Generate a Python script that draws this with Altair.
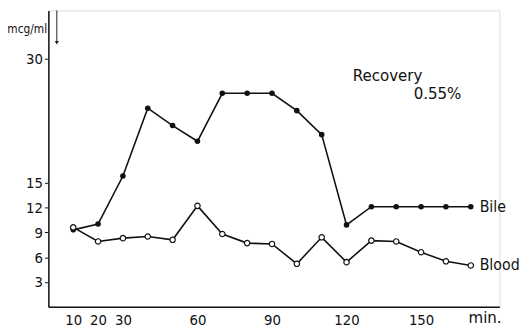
import altair as alt
import pandas as pd

minutes = [10, 20, 30, 40, 50, 60, 70, 80, 90, 100, 110, 120, 130, 140, 150, 160, 170]
bile = [9.3, 10.0, 15.8, 24.0, 21.9, 20.0, 25.8, 25.8, 25.8, 23.7, 20.8, 9.9, 12.1, 12.1, 12.1, 12.1, 12.1]
blood = [9.6, 7.9, 8.3, 8.5, 8.1, 12.2, 8.8, 7.7, 7.6, 5.2, 8.4, 5.4, 8.0, 7.9, 6.6, 5.5, 5.0]
y_ticks = [3, 6, 9, 12, 15, 30]
x_ticks = [10, 20, 30, 60, 90, 120, 150]
series_names = ["Bile", "Blood"]
note_text = ["Recovery", "0.55%"]
note_x = [122.5, 147.0]
note_y = [27.9, 25.7]

FONT = "'Liberation Sans Narrow', 'DejaVu Sans Condensed', sans-serif"

df = pd.DataFrame({
    "min": minutes * 2,
    "value": bile + blood,
    "series": [series_names[0]] * len(minutes) + [series_names[1]] * len(minutes),
})
end_df = pd.DataFrame({
    "min": [minutes[-1], minutes[-1]],
    "value": [bile[-1], blood[-1]],
    "label": series_names,
})
note_df = pd.DataFrame({"x": note_x, "y": note_y, "t": note_text})

xs = alt.Scale(domain=[0, 181.5], nice=False, zero=False)
ys = alt.Scale(domain=[0, 35.8], nice=False, zero=False)

xenc = alt.X("min:Q", scale=xs, axis=alt.Axis(
    values=x_ticks, grid=False, ticks=False, tickSize=0, labelPadding=6,
    labelFont=FONT, labelFontSize=15, labelColor="#111", domainColor="#111",
    domainWidth=1.5, title="min.", titleFont=FONT, titleFontSize=17,
    titleFontWeight="normal", titleColor="#111", titleX=443, titleY=3,
    titleBaseline="top", titleAlign="center"))
yenc = alt.Y("value:Q", scale=ys, axis=alt.Axis(
    values=y_ticks, grid=False, tickSize=4, tickColor="#111", labelPadding=2,
    labelFont=FONT, labelFontSize=15, labelColor="#111", domainColor="#111",
    domainWidth=1.5, title="mcg/ml", titleFont=FONT, titleFontSize=12,
    titleFontWeight="normal", titleColor="#111", titleAngle=0, titleX=-22,
    titleY=18, titleAlign="center", titleBaseline="middle"))

base = alt.Chart(df)
lines = base.mark_line(color="#111", strokeWidth=1.6).encode(
    x=xenc, y=yenc, detail="series:N")
pts_bile = base.transform_filter(alt.datum.series == "Bile").mark_point(
    filled=True, color="#111", size=32, opacity=1).encode(x="min:Q", y="value:Q")
pts_blood = base.transform_filter(alt.datum.series == "Blood").mark_point(
    filled=True, fill="white", stroke="#111", strokeWidth=1.2, size=30, opacity=1
).encode(x="min:Q", y="value:Q")

ends = alt.Chart(end_df).mark_text(
    align="left", baseline="middle", dx=9, font=FONT, fontSize=16, color="#111"
).encode(x="min:Q", y="value:Q", text="label:N")

notes = alt.Chart(note_df).mark_text(
    align="left", baseline="middle", font=FONT, fontSize=17, color="#111"
).encode(x="x:Q", y="y:Q", text="t:N")

arrow_df = pd.DataFrame({"x": [3.4], "y": [35.8], "y2": [31.9]})
arrow_line = alt.Chart(arrow_df).mark_rule(color="#222", strokeWidth=1).encode(
    x="x:Q", y="y:Q", y2="y2:Q")
arrow_head = alt.Chart(arrow_df).mark_point(
    shape="triangle-down", filled=True, color="#222", size=18, opacity=1
).encode(x="x:Q", y="y2:Q")

chart = alt.layer(lines, pts_bile, pts_blood, ends, notes, arrow_line, arrow_head).properties(
    width=458, height=301,
    autosize=alt.AutoSizeParams(type="none"),
    padding={"left": 41, "top": 0, "right": 23, "bottom": 22},
).configure_view(stroke=None).configure(background="white")

chart.save("out.html", embed_options={"renderer": "svg", "actions": False})
